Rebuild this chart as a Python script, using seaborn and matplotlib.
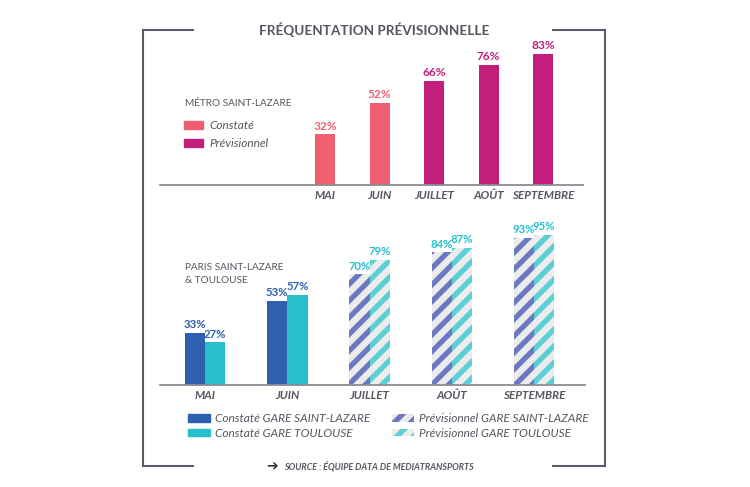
import pandas as pd
import matplotlib.pyplot as plt
import matplotlib.patches as mpatches
from matplotlib.lines import Line2D
import seaborn as sns

# data
months = ["MAI", "JUIN", "JUILLET", "AOÛT", "SEPTEMBRE"]
metro_values = [32, 52, 66, 76, 83]
metro_type = ["Constaté", "Constaté", "Prévisionnel", "Prévisionnel", "Prévisionnel"]
gare_sl = [33, 53, 70, 84, 93]
gare_tls = [27, 57, 79, 87, 95]
forecast_months = ["JUILLET", "AOÛT", "SEPTEMBRE"]

sns.set_style("white")
plt.rcParams["font.family"] = ["Lato", "DejaVu Sans"]
plt.rcParams["hatch.linewidth"] = 3.8

grey = "#555760"
pink = "#F05F70"
magenta = "#C21E7C"
blue = "#2F60AE"
teal = "#26BFCB"
stripe_blue = "#6C79C2"
stripe_teal = "#5ACFD6"
hatch_bg = "#ECECEC"

W, H = 750, 487
fig = plt.figure(figsize=(7.5, 4.87), dpi=100)
px = 1.58  # pixels per percent


def ax_at(left, right, base, height):
    return fig.add_axes([left / W, (H - base) / H, (right - left) / W, height / H])


# ---- top chart: metro
df_top = pd.DataFrame({"mois": months, "val": metro_values, "type": metro_type})
ax1 = ax_at(160, 583, 185, 150)
sns.barplot(data=df_top, x="mois", y="val", hue="type", order=months,
            hue_order=["Constaté", "Prévisionnel"], palette=[pink, magenta],
            dodge=False, width=0.37, saturation=1, linewidth=0, legend=False, ax=ax1)
ax1.set_xlim(-3.03, 4.73)
ax1.set_ylim(0, 150 / px)
for cont, col in zip(ax1.containers, [pink, magenta]):
    ax1.bar_label(cont, labels=[f"{v:.0f}%" for v in cont.datavalues],
                  color=col, fontsize=8.6, fontweight="bold", padding=2)

# ---- bottom chart: gares
df_bot = pd.DataFrame({
    "mois": months * 2,
    "val": gare_sl + gare_tls,
    "gare": ["SAINT-LAZARE"] * 5 + ["TOULOUSE"] * 5,
})
ax2 = ax_at(160, 585, 385, 160)
sns.barplot(data=df_bot, x="mois", y="val", hue="gare", order=months,
            hue_order=["SAINT-LAZARE", "TOULOUSE"], palette=[blue, teal],
            width=0.49, saturation=1, linewidth=0, legend=False, ax=ax2)
ax2.set_xlim(-0.55, 4.62)
ax2.set_ylim(0, 160 / px)
for cont, stripe in zip(ax2.containers, [stripe_blue, stripe_teal]):
    for m, bar in zip(months, cont):
        if m in forecast_months:
            bar.set_facecolor(hatch_bg)
            bar.set_edgecolor(stripe)
            bar.set_hatch("//")
            bar.set_linewidth(0)
    texts = ax2.bar_label(cont, labels=[f"{v:.0f}%" for v in cont.datavalues],
                          fontsize=8.2, fontweight="bold", padding=2)
    for m, t in zip(months, texts):
        t.set_color(teal if m in forecast_months else blue)

for ax in [ax1, ax2]:
    sns.despine(ax=ax, left=True)
    ax.spines["bottom"].set_color("#8a8c94")
    ax.spines["bottom"].set_linewidth(1.3)
    ax.set_yticks([])
    ax.set_xlabel("")
    ax.set_ylabel("")
    ax.tick_params(axis="x", length=0, pad=3.5, labelcolor=grey)
    for lab in ax.get_xticklabels():
        lab.set_fontsize(8.4)
        lab.set_fontweight("bold")
        lab.set_fontstyle("italic")
    ax.patch.set_alpha(0)

# ---- texts
fig.text(374 / W, 1 - 30 / H, "FRÉQUENTATION PRÉVISIONNELLE", ha="center", va="center",
         fontsize=9.7, fontweight="bold", color=grey)
fig.text(185 / W, 1 - 103 / H, "MÉTRO SAINT-LAZARE", ha="left", va="center",
         fontsize=7.2, color=grey)
fig.text(185 / W, 1 - 274 / H, "PARIS SAINT-LAZARE\n& TOULOUSE", ha="left", va="center",
         fontsize=7.2, color=grey, linespacing=1.55)

fig.legend(handles=[mpatches.Patch(color=pink), mpatches.Patch(color=magenta)],
           labels=["Constaté", "Prévisionnel"], loc="upper left",
           bbox_to_anchor=(184 / W, 1 - 120 / H), frameon=False,
           prop={"size": 8.6, "style": "italic"}, labelcolor=grey,
           handlelength=1.6, handleheight=0.6, handletextpad=0.5,
           labelspacing=0.62, borderpad=0, borderaxespad=0)

h_sl = mpatches.Patch(color=blue)
h_tls = mpatches.Patch(color=teal)
h_psl = mpatches.Patch(facecolor=hatch_bg, edgecolor=stripe_blue, hatch="//", linewidth=0)
h_ptls = mpatches.Patch(facecolor=hatch_bg, edgecolor=stripe_teal, hatch="//", linewidth=0)
fig.legend(handles=[h_sl, h_tls, h_psl, h_ptls],
           labels=["Constaté GARE SAINT-LAZARE", "Constaté GARE TOULOUSE",
                   "Prévisionnel GARE SAINT-LAZARE", "Prévisionnel GARE TOULOUSE"],
           ncol=2, loc="upper left", bbox_to_anchor=(188 / W, 1 - 413 / H),
           frameon=False, prop={"size": 8.6, "style": "italic"}, labelcolor=grey,
           handlelength=1.85, handleheight=0.6, handletextpad=0.45,
           labelspacing=0.3, columnspacing=1.75, borderpad=0, borderaxespad=0)

fig.text(272 / W, 1 - 466 / H, "➔", ha="center", va="center", fontsize=10,
         color="#333333", family="DejaVu Sans")
fig.text(284 / W, 1 - 466 / H, "SOURCE : ÉQUIPE DATA DE MEDIATRANSPORTS", ha="left",
         va="center", fontsize=6.4, fontweight="bold", fontstyle="italic", color=grey)

# ---- frame
frame = "#5a5d69"
segments = [
    ([143, 193], [30, 30]), ([553, 605], [30, 30]),
    ([143, 143], [30, 466]), ([605, 605], [30, 466]),
    ([143, 193], [466, 466]), ([553, 605], [466, 466]),
]
for xs, ys in segments:
    fig.add_artist(Line2D([x / W for x in xs], [1 - y / H for y in ys],
                          color=frame, linewidth=1.5, solid_capstyle="projecting"))

fig.savefig("out.png", dpi=100)
